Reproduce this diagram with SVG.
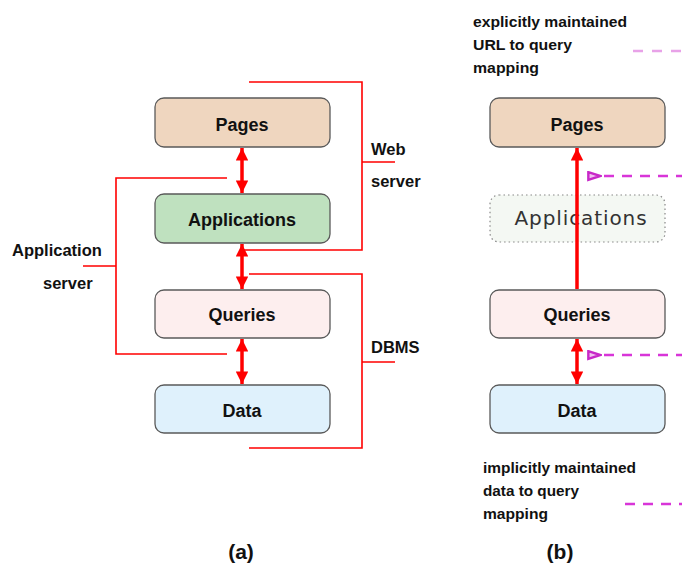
<svg xmlns="http://www.w3.org/2000/svg" width="682" height="567" viewBox="0 0 682 567">
  <defs>
    <marker id="redHead" viewBox="0 0 10 10" refX="10" refY="5" markerWidth="3.6" markerHeight="3.6" orient="auto-start-reverse" markerUnits="strokeWidth">
      <path d="M0,0 L10,5 L0,10 Z" fill="#ff0000"/>
    </marker>
    <marker id="openHead" viewBox="0 0 14 10" refX="1" refY="5" markerWidth="16" markerHeight="11" orient="auto" markerUnits="userSpaceOnUse">
      <path d="M12.5,1.5 L1.5,5 L12.5,8.5 Z" fill="#f0c0f0" stroke="#c828c8" stroke-width="2.2"/>
    </marker>
  </defs>
  <style>
    .box { stroke: #5a5a5a; stroke-width: 1.3; }
    .lbl { font-family: "Liberation Sans", Arial, sans-serif; font-weight: bold; fill: #111; }
    .node { font-size: 18px; text-anchor: middle; }
    .side { font-size: 16.5px; }
    .note { font-size: 15px; }
    .cap { font-size: 21px; text-anchor: middle; }
    .bracket { fill: none; stroke: #ff0000; stroke-width: 1.6; }
    .link { stroke: #ff0000; stroke-width: 3.5; fill: none; marker-start: url(#redHead); marker-end: url(#redHead); }
    .up { stroke: #ff0000; stroke-width: 3.5; fill: none; marker-end: url(#redHead); }
    .map { stroke: #d835d8; stroke-width: 2.5; fill: none; stroke-dasharray: 10 8; }
    .map-light { stroke: #e8a2e8; stroke-dasharray: 10 9; }
  </style>
  <rect width="682" height="567" fill="#ffffff"/>

  <!-- (a) layered architecture -->
  <g id="a-pages">
    <rect class="box" x="155" y="98" width="175" height="49" rx="9" fill="#efd6bf"/>
    <text class="lbl node" x="242" y="131">Pages</text>
  </g>
  <g id="a-applications">
    <rect class="box" x="155" y="194" width="175" height="49" rx="9" fill="#bfe1bf"/>
    <text class="lbl node" x="242" y="226">Applications</text>
  </g>
  <g id="a-queries">
    <rect class="box" x="155" y="290" width="175" height="48" rx="9" fill="#fdeeee"/>
    <text class="lbl node" x="242" y="321">Queries</text>
  </g>
  <g id="a-data">
    <rect class="box" x="155" y="385" width="175" height="48" rx="9" fill="#dff1fc"/>
    <text class="lbl node" x="242" y="417">Data</text>
  </g>

  <!-- (b) cached architecture -->
  <g id="b-pages">
    <rect class="box" x="490" y="98" width="175" height="49" rx="9" fill="#efd6bf"/>
    <text class="lbl node" x="577" y="131">Pages</text>
  </g>
  <g id="b-applications">
    <rect x="490" y="195" width="175" height="47" rx="9" fill="#f4f8f3" stroke="#888" stroke-width="1.2" stroke-dasharray="1.5 3"/>
    <text x="581" y="225" font-family="'DejaVu Sans', Verdana, sans-serif" font-size="20" letter-spacing="0.9" text-anchor="middle" fill="#333">Applications</text>
  </g>
  <g id="b-queries">
    <rect class="box" x="490" y="290" width="175" height="48" rx="9" fill="#fdeeee"/>
    <text class="lbl node" x="577" y="321">Queries</text>
  </g>
  <g id="b-data">
    <rect class="box" x="490" y="385" width="175" height="48" rx="9" fill="#dff1fc"/>
    <text class="lbl node" x="577" y="417">Data</text>
  </g>

  <g id="connectors">
    <!-- tier arrows -->
    <line class="link" x1="242" y1="148" x2="242" y2="193"/>
    <line class="link" x1="242" y1="244" x2="242" y2="289"/>
    <line class="link" x1="242" y1="339" x2="242" y2="384"/>
    <line class="up" x1="577" y1="289" x2="577" y2="148"/>
    <line class="link" x1="577" y1="339" x2="577" y2="384"/>

    <!-- web server bracket -->
    <path class="bracket" d="M249,82 H362 V250 H243 M362,162 H395"/>
    <!-- application server bracket -->
    <path class="bracket" d="M227,178 H116 V354 H227 M116,266 H83"/>
    <!-- DBMS bracket -->
    <path class="bracket" d="M249,274 H362 V448 H249 M362,362 H395"/>

    <!-- mapping lines -->
    <line class="map map-light" x1="633" y1="51" x2="682" y2="51"/>
    <line class="map" x1="682" y1="176" x2="601" y2="176" marker-end="url(#openHead)" stroke-dashoffset="4"/>
    <line class="map" x1="682" y1="355" x2="601" y2="355" marker-end="url(#openHead)" stroke-dashoffset="4"/>
    <line class="map" x1="625" y1="504" x2="682" y2="504"/>
  </g>

  <!-- tier labels -->
  <text class="lbl side" x="371" y="155">Web</text>
  <text class="lbl side" x="371" y="187">server</text>
  <text class="lbl side" x="12" y="256">Application</text>
  <text class="lbl side" x="43" y="289">server</text>
  <text class="lbl side" x="371" y="353">DBMS</text>

  <!-- mapping notes -->
  <text class="lbl note" x="473" y="27" textLength="154" lengthAdjust="spacingAndGlyphs">explicitly maintained</text>
  <text class="lbl note" x="473" y="50" textLength="99" lengthAdjust="spacingAndGlyphs">URL to query</text>
  <text class="lbl note" x="473" y="73" textLength="66" lengthAdjust="spacingAndGlyphs">mapping</text>
  <text class="lbl note" x="483" y="473" textLength="153" lengthAdjust="spacingAndGlyphs">implicitly maintained</text>
  <text class="lbl note" x="483" y="496" textLength="96" lengthAdjust="spacingAndGlyphs">data to query</text>
  <text class="lbl note" x="483" y="519" textLength="65" lengthAdjust="spacingAndGlyphs">mapping</text>

  <!-- captions -->
  <text class="lbl cap" x="241" y="559">(a)</text>
  <text class="lbl cap" x="560" y="559">(b)</text>
</svg>
